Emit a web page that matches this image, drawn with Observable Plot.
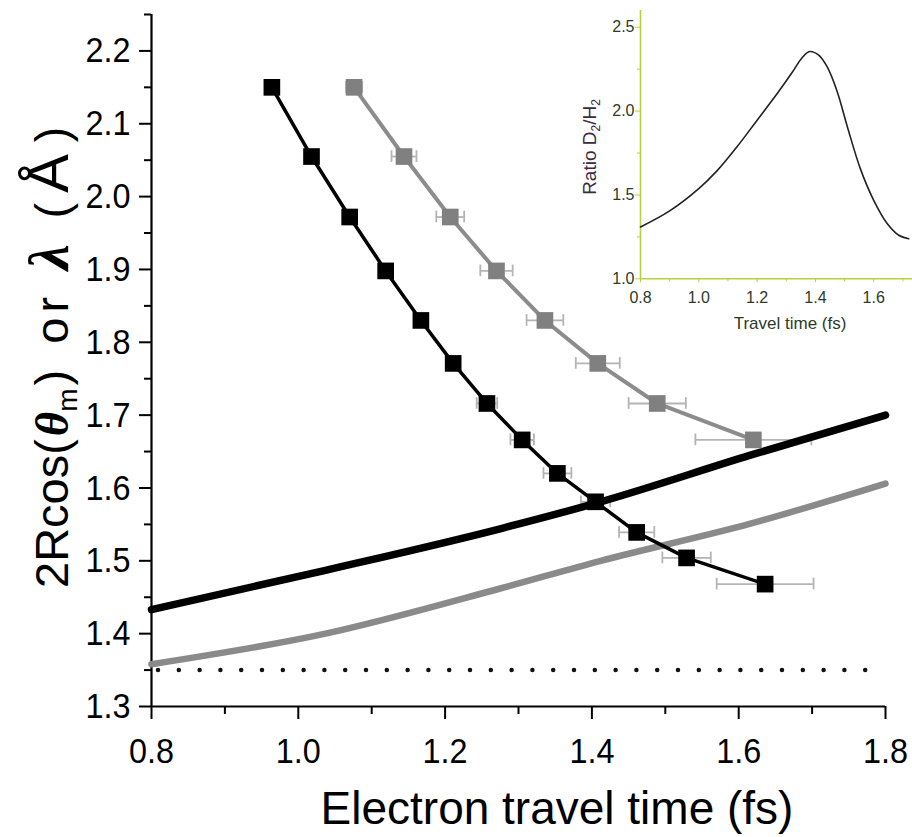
<!DOCTYPE html>
<html>
<head>
<meta charset="utf-8">
<script src="https://cdn.jsdelivr.net/npm/d3@7"></script>
<script src="https://cdn.jsdelivr.net/npm/@observablehq/plot@0.6"></script>
<style>
  html, body { margin: 0; padding: 0; background: #fff; }
  #wrap { position: relative; width: 912px; height: 837px; overflow: hidden; }
  #inset { position: absolute; left: 570px; top: 0px; }
</style>
</head>
<body>
<div id="wrap"><div id="main"></div><div id="inset"></div></div>
<script>
// ---------- data ----------
const xDomain = [0.8, 1.8];
const yDomain = [1.3, 2.25];
const xTicksMajor = [0.8, 1.0, 1.2, 1.4, 1.6, 1.8];
const xTicksMinor = [0.9, 1.1, 1.3, 1.5, 1.7];
const yTicksMajor = [1.3, 1.4, 1.5, 1.6, 1.7, 1.8, 1.9, 2.0, 2.1, 2.2];
const yTicksMinor = [1.35, 1.45, 1.55, 1.65, 1.75, 1.85, 1.95, 2.05, 2.15, 2.25];

// 2Rcos(theta_m) levels shared by both data sets
const levels = [2.150, 2.055, 1.972, 1.898, 1.830, 1.771, 1.716, 1.666, 1.620, 1.581, 1.539, 1.504, 1.468];
// black squares: travel time and its error
const blackTime = [0.964, 1.018, 1.070, 1.119, 1.167, 1.211, 1.257, 1.305, 1.353, 1.405, 1.461, 1.529, 1.636];
const blackErr  = [0.003, 0.003, 0.007, 0.004, 0.005, 0.008, 0.014, 0.016, 0.019, 0.020, 0.024, 0.033, 0.066];
// grey squares
const greyTime = [1.076, 1.144, 1.207, 1.270, 1.336, 1.408, 1.489, 1.620];
const greyErr  = [0.011, 0.017, 0.019, 0.022, 0.025, 0.030, 0.039, 0.079];

// lambda curves
const curveTime   = [0.8, 1.037, 1.275, 1.412, 1.616, 1.8];
const blackLambda = [1.433, 1.487, 1.544, 1.581, 1.645, 1.700];
const greyLambda  = [1.358, 1.400, 1.462, 1.500, 1.551, 1.606];
const dottedLevel = 1.35;

// inset: ratio D2/H2 vs travel time
const insetXDomain = [0.8, 1.733];
const insetYDomain = [1.0, 2.6];
const insetXMajor = [0.8, 1.0, 1.2, 1.4, 1.6];
const insetXMinor = [0.9, 1.1, 1.3, 1.5, 1.7];
const insetYMajor = [1.0, 1.5, 2.0, 2.5];
const insetYMinor = [1.25, 1.75, 2.25];
const ratioTime  = [0.8, 0.9, 1.0, 1.063, 1.131, 1.2, 1.269, 1.32, 1.355, 1.38, 1.41, 1.44, 1.474, 1.509, 1.554, 1.6, 1.646, 1.686, 1.72];
const ratioValue = [1.309, 1.405, 1.538, 1.645, 1.787, 1.946, 2.105, 2.23, 2.32, 2.355, 2.335, 2.265, 2.12, 1.91, 1.657, 1.468, 1.33, 1.26, 1.239];

// ---------- tables ----------
const black = levels.map((y, i) => ({x: blackTime[i], y, e: blackErr[i]}));
const grey = greyTime.map((x, i) => ({x, y: levels[i], e: greyErr[i]}));
const blackCurve = curveTime.map((x, i) => ({x, y: blackLambda[i]}));
const greyCurve = curveTime.map((x, i) => ({x, y: greyLambda[i]}));
const ratio = ratioTime.map((x, i) => ({x, y: ratioValue[i]}));

const FONT = "'Liberation Sans', Arial, sans-serif";
const SERIF = "'Liberation Serif', 'DejaVu Serif', serif";
const capH = 0.008;
const errColor = "#b4b4b4";

function errorMarks(data) {
  return [
    Plot.ruleY(data, {y: "y", x1: d => d.x - d.e, x2: d => d.x + d.e, stroke: errColor, strokeWidth: 1.8}),
    Plot.ruleX(data, {x: d => d.x - d.e, y1: d => d.y - capH, y2: d => d.y + capH, stroke: errColor, strokeWidth: 1.8}),
    Plot.ruleX(data, {x: d => d.x + d.e, y1: d => d.y - capH, y2: d => d.y + capH, stroke: errColor, strokeWidth: 1.8})
  ];
}

const main = Plot.plot({
  width: 912, height: 837,
  marginLeft: 151, marginRight: 27, marginTop: 14, marginBottom: 131,
  style: {fontFamily: FONT, background: "transparent", color: "#000"},
  x: {domain: xDomain},
  y: {domain: yDomain},
  marks: [
    Plot.axisY(yTicksMajor, {tickSize: 12, tickPadding: 9, fontSize: 36, tickFormat: d3.format(".1f"), label: null, strokeWidth: 2}),
    Plot.axisY(yTicksMinor, {tickSize: 7, tickFormat: () => "", label: null, strokeWidth: 2}),
    Plot.axisX(xTicksMajor, {tickSize: 13, tickPadding: 18, fontSize: 36, tickFormat: d3.format(".1f"), label: null, strokeWidth: 2}),
    Plot.axisX(xTicksMinor, {tickSize: 8, tickFormat: () => "", label: null, strokeWidth: 2}),
    Plot.ruleX([xDomain[0]], {y1: yDomain[0], y2: yDomain[1], strokeWidth: 2.2}),
    Plot.ruleY([yDomain[0]], {x1: xDomain[0], x2: xDomain[1], strokeWidth: 2.2}),
    Plot.ruleY([dottedLevel], {x1: xDomain[0], x2: xDomain[1], stroke: "#111", strokeWidth: 4.5, strokeLinecap: "round", strokeDasharray: "0 20.8", strokeDashoffset: -7}),
    ...errorMarks(black),
    ...errorMarks(grey),
    Plot.line(greyCurve, {x: "x", y: "y", curve: "monotone-x", stroke: "#8a8a8a", strokeWidth: 6.5}),
    Plot.line(blackCurve, {x: "x", y: "y", curve: "monotone-x", stroke: "#000", strokeWidth: 7.5}),
    Plot.line(grey, {x: "x", y: "y", stroke: "#8c8c8c", strokeWidth: 4}),
    Plot.line(black, {x: "x", y: "y", stroke: "#000", strokeWidth: 3.5}),
    Plot.dot(grey, {x: "x", y: "y", symbol: "square", r: 9.4, fill: "#808080", stroke: "none"}),
    Plot.dot(black, {x: "x", y: "y", symbol: "square", r: 9.4, fill: "#000", stroke: "none"})
  ]
});
document.getElementById("main").appendChild(main);

// narrow the tick labels a little, like the reference face
d3.select(main).selectAll("g[aria-label$='tick label'] text").each(function() {
  const t = this.getAttribute("transform") || "";
  this.setAttribute("transform", t + " scale(0.9,1)");
});

// axis titles (rich text)
const svg = d3.select(main);
const yl = svg.append("text")
  .attr("transform", "translate(68,588) rotate(-90)")
  .attr("text-anchor", "start")
  .attr("font-family", FONT).attr("font-size", 47).attr("fill", "#000");
yl.append("tspan").text("2Rcos(");
yl.append("tspan").attr("dx", 3).attr("font-weight", "bold").attr("font-style", "italic").attr("font-family", SERIF).text("θ");
yl.append("tspan").attr("font-size", 28).attr("dy", 9).text("m");
yl.append("tspan").attr("dy", -9).attr("dx", 3).text(")");
yl.append("tspan").attr("dx", 26).attr("letter-spacing", 5).text("or");
yl.append("tspan").attr("dx", 22).attr("font-size", 58).attr("font-weight", "bold").attr("font-style", "italic").attr("font-family", SERIF).text("λ");
yl.append("tspan").attr("dx", 26).attr("font-size", 46).text("(");
yl.append("tspan").attr("dx", 10).attr("font-size", 58).text("Å");
yl.append("tspan").attr("dx", 12).attr("font-size", 46).text(")");

svg.append("text")
  .attr("x", 557).attr("y", 824).attr("text-anchor", "middle")
  .attr("font-family", FONT).attr("font-size", 46).attr("fill", "#000")
  .text("Electron travel time (fs)");

// ---------- inset ----------
const axisCol = "#b9cf3e";
const labCol = "#2e3a28";
const inset = Plot.plot({
  width: 342, height: 340,
  marginLeft: 70, marginRight: 0, marginTop: 10, marginBottom: 61.7,
  style: {fontFamily: FONT, background: "transparent", color: labCol},
  x: {domain: insetXDomain},
  y: {domain: insetYDomain},
  marks: [
    Plot.axisY(insetYMajor, {tickSize: 5, tickPadding: 1, fontSize: 16, tickFormat: d3.format(".1f"), label: null, stroke: axisCol, fill: labCol}),
    Plot.axisY(insetYMinor, {tickSize: 3, tickFormat: () => "", label: null, stroke: axisCol}),
    Plot.axisX(insetXMajor, {tickSize: 4, tickPadding: 9, fontSize: 16, tickFormat: d3.format(".1f"), label: null, stroke: axisCol, fill: labCol}),
    Plot.axisX(insetXMinor, {tickSize: 3, tickFormat: () => "", label: null, stroke: axisCol}),
    Plot.ruleX([insetXDomain[0]], {y1: insetYDomain[0], y2: insetYDomain[1], stroke: axisCol, strokeWidth: 1.6}),
    Plot.ruleY([insetYDomain[0]], {x1: insetXDomain[0], x2: insetXDomain[1], stroke: axisCol, strokeWidth: 1.6}),
    Plot.line(ratio, {x: "x", y: "y", curve: "catmull-rom", stroke: "#222", strokeWidth: 1.6})
  ]
});
document.getElementById("inset").appendChild(inset);
const isvg = d3.select(inset);
isvg.append("text")
  .attr("x", 220).attr("y", 329).attr("text-anchor", "middle")
  .attr("font-family", FONT).attr("font-size", 17).attr("fill", labCol)
  .text("Travel time (fs)");
const il = isvg.append("text")
  .attr("transform", "translate(26,147) rotate(-90)")
  .attr("text-anchor", "middle")
  .attr("font-family", FONT).attr("font-size", 19).attr("fill", "#3a2a44");
il.append("tspan").text("Ratio D");
il.append("tspan").attr("font-size", 12).attr("dy", 4).text("2");
il.append("tspan").attr("dy", -4).text("/H");
il.append("tspan").attr("font-size", 12).attr("dy", 4).text("2");
</script>
</body>
</html>
